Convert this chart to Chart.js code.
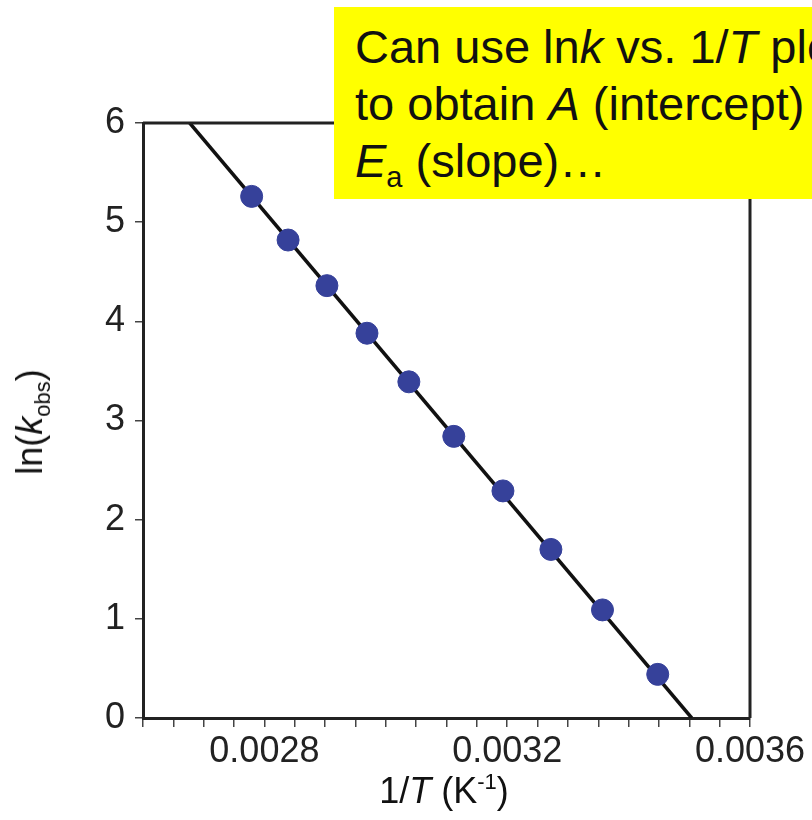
<!DOCTYPE html>
<html>
<head>
<meta charset="utf-8">
<script src="https://cdn.jsdelivr.net/npm/chart.js@4.4.1/dist/chart.umd.min.js"></script>
<style>
  html, body { margin: 0; padding: 0; background: #fff; overflow: hidden; }
  #wrap { position: relative; width: 812px; height: 820px; font-family: "Liberation Sans", Arial, sans-serif; color: #111; }
  #wrap canvas { position: absolute; left: 0; top: 0; }
  .note { position: absolute; left: 334px; top: 7px; width: 500px; height: 192px; background: #ffff00;
          box-sizing: border-box; padding: 11px 0 0 21px; font-size: 47px; line-height: 57px; white-space: nowrap; }
  .note sub { font-size: 29px; vertical-align: -10px; line-height: 0; }
  .xtitle { position: absolute; left: 444px; top: 770px; transform: translateX(-50%); font-size: 36px; white-space: nowrap; }
  .xtitle sup { font-size: 22px; vertical-align: 14px; line-height: 0; }
  .ytitle { position: absolute; left: 30px; top: 422px; transform: translate(-50%, -50%) rotate(-90deg); font-size: 36px; white-space: nowrap; }
  .ytitle sub { font-size: 22px; vertical-align: -8px; line-height: 0; }
</style>
</head>
<body>
<div id="wrap">
  <canvas id="grafico" width="812" height="820"></canvas>
  <div class="ytitle">ln(<i>k</i><sub>obs</sub>)</div>
  <div class="xtitle">1/<i>T</i> (K<sup>-1</sup>)</div>
  <div class="note">Can use ln<i>k</i> vs. 1/<i>T</i> plot<br>to obtain <i>A</i> (intercept) and<br><i>E</i><sub>a</sub> (slope)…</div>
</div>
<script>
// dados
const inversoT = [0.002779, 0.002839, 0.002903, 0.002969, 0.003038, 0.003112, 0.003193, 0.003272, 0.003357, 0.003448];
const lnKobs = [5.26, 4.82, 4.36, 3.88, 3.39, 2.84, 2.29, 1.70, 1.09, 0.44];
// reta ajustada (extremos dentro da área do gráfico)
const retaX = [0.002677, 0.003504];
const retaY = [6, 0];
const rotulosX = [0.0028, 0.0032, 0.0036];

const pontos = inversoT.map((x, i) => ({ x: x, y: lnKobs[i] }));
const reta = retaX.map((x, i) => ({ x: x, y: retaY[i] }));

const molduraPlugin = {
  id: 'moldura',
  afterDatasetsDraw(chart) {
    const { ctx, chartArea: a } = chart;
    ctx.save();
    ctx.strokeStyle = '#222';
    ctx.lineWidth = 3;
    ctx.beginPath();
    ctx.moveTo(a.left, a.top);
    ctx.lineTo(a.right, a.top);
    ctx.lineTo(a.right, a.bottom);
    ctx.stroke();
    ctx.restore();
  }
};

const fonteTicks = { family: '"Liberation Sans", Arial, sans-serif', size: 36 };

new Chart(document.getElementById('grafico').getContext('2d'), {
  type: 'scatter',
  plugins: [molduraPlugin],
  data: {
    datasets: [
      { label: 'ln(kobs)', data: pontos, backgroundColor: '#36419a', borderColor: '#36419a', pointRadius: 11, pointHoverRadius: 11, order: 0 },
      { type: 'line', label: 'ajuste', data: reta, showLine: true, borderColor: '#111', borderWidth: 3.5, pointRadius: 0, fill: false, order: 1 }
    ]
  },
  options: {
    responsive: false,
    animation: false,
    layout: { padding: { top: 123, right: 62, left: 0, bottom: 0 } },
    plugins: { legend: { display: false }, tooltip: { enabled: false } },
    scales: {
      x: {
        type: 'linear', min: 0.0026, max: 0.0036,
        afterFit: s => { s.height = 102; },
        border: { display: true, color: '#222', width: 3 },
        grid: { drawOnChartArea: false, tickLength: 9, color: '#444', lineWidth: 1.5 },
        ticks: {
          stepSize: 0.00005, autoSkip: false, maxRotation: 0, padding: 3, color: '#222', font: fonteTicks,
          callback: v => {
            const r = rotulosX.find(t => Math.abs(t - v) < 1e-8);
            return r !== undefined ? r.toFixed(4) : '';
          }
        }
      },
      y: {
        type: 'linear', min: 0, max: 6,
        afterFit: s => { s.width = 143; },
        border: { display: true, color: '#222', width: 3 },
        grid: { drawOnChartArea: false, tickLength: 8, color: '#444', lineWidth: 1.5 },
        ticks: { stepSize: 1, padding: 10, color: '#222', font: fonteTicks }
      }
    }
  }
});
</script>
</body>
</html>
